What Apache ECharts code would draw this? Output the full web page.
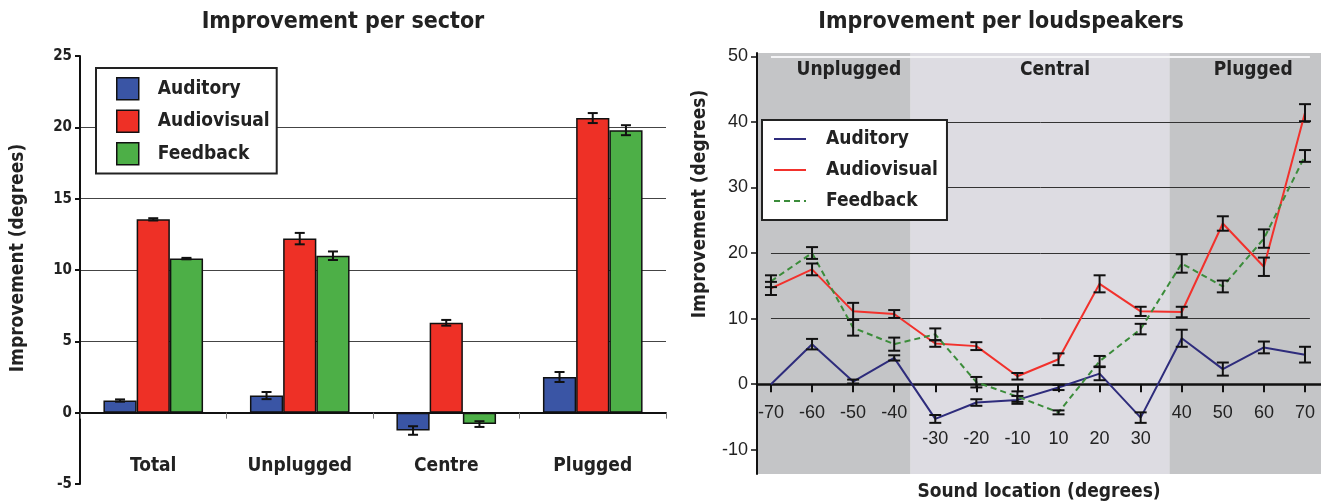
<!DOCTYPE html>
<html>
<head>
<meta charset="utf-8">
<script src="https://cdn.jsdelivr.net/npm/echarts@6/dist/echarts.min.js"></script>
<style>
html,body{margin:0;padding:0;background:#fff;}
#chart{width:1321px;height:503px;}
</style>
</head>
<body>
<div id="chart"></div>
<script>
// ---------- data: left chart (per sector) ----------
const sectors = ['Total', 'Unplugged', 'Centre', 'Plugged'];
const sectorAuditory = [0.85, 1.2, -1.25, 2.5];
const sectorAuditoryErr = [0.08, 0.25, 0.3, 0.35];
const sectorAudiovisual = [13.55, 12.2, 6.3, 20.65];
const sectorAudiovisualErr = [0.08, 0.4, 0.2, 0.35];
const sectorFeedback = [10.8, 11.0, -0.8, 19.8];
const sectorFeedbackErr = [0.05, 0.3, 0.2, 0.35];
const sectorTicks = [-5, 0, 5, 10, 15, 20, 25];

// ---------- data: right chart (per loudspeaker) ----------
const locations = ['-70', '-60', '-50', '-40', '-30', '-20', '-10', '10', '20', '30', '40', '50', '60', '70'];
const locAuditory = [0, 6.1, 0.4, 4.0, -5.3, -2.8, -2.4, -0.5, 1.6, -5.1, 7.0, 2.3, 5.6, 4.5];
const locAuditoryErr = [0, 0.8, 0.3, 0.4, 0.6, 0.5, 0.6, 0.4, 1.0, 0.8, 1.3, 1.0, 0.9, 1.2];
const locAudiovisual = [14.6, 17.5, 11.1, 10.7, 6.2, 5.8, 1.2, 3.8, 15.3, 11.1, 11.0, 24.5, 17.9, 41.4];
const locAudiovisualErr = [1.0, 0.9, 1.3, 0.6, 0.5, 0.6, 0.5, 0.9, 1.3, 0.7, 0.8, 1.1, 1.4, 1.3];
const locFeedback = [15.7, 20.0, 8.6, 6.1, 7.6, 0.3, -1.9, -4.3, 3.5, 8.4, 18.4, 14.9, 22.2, 34.8];
const locFeedbackErr = [0.9, 0.9, 1.2, 1.0, 0.9, 0.8, 0.8, 0.3, 0.8, 0.8, 1.4, 0.9, 1.4, 0.9];
const locTicks = [-10, 0, 10, 20, 30, 40, 50];
const locGridLines = [10, 20, 30, 40];
const zones = ['Unplugged', 'Central', 'Plugged'];
const zoneEdges = [-0.34, 3.4, 9.7, 13.39]; // in loudspeaker-index units
const centralLocations = ['-30', '-20', '-10', '10', '20', '30'];

// ---------- styles ----------
const BOLD = "'DejaVu Sans Condensed', 'DejaVu Sans', sans-serif";
const NARROW = "'Liberation Sans Narrow', 'Liberation Sans', Arial, sans-serif";
const TXT = '#222';
const C_BLUE = '#3a55a5', C_RED = '#ee3026', C_GREEN = '#4daf47';
const L_NAVY = '#2e2c7c', L_RED = '#f2312c', L_GREEN = '#3b8c3a';

const chart = echarts.init(document.getElementById('chart'), null, {renderer: 'canvas'});

const GAP = 0.32;
function barErrRender(k) {
  return function (params, api) {
    const c = api.value(0), lo = api.value(1), hi = api.value(2);
    if (hi - lo <= 0) return null;
    const band = api.size([1, 0])[0];
    const bw = band * (1 - GAP) / 3;
    const off = (k - 1) * bw;
    const a = api.coord([c, lo]), b = api.coord([c, hi]);
    const x = a[0] + off, hw = 5;
    const st = {stroke: '#111', lineWidth: 2};
    return {type: 'group', children: [
      {type: 'line', shape: {x1: x, y1: a[1], x2: x, y2: b[1]}, style: st},
      {type: 'line', shape: {x1: x - hw, y1: a[1], x2: x + hw, y2: a[1]}, style: st},
      {type: 'line', shape: {x1: x - hw, y1: b[1], x2: x + hw, y2: b[1]}, style: st}
    ]};
  };
}
function lineErrRender(params, api) {
  const x = api.value(0), lo = api.value(1), hi = api.value(2);
  if (hi - lo <= 0) return null;
  const a = api.coord([x, lo]), b = api.coord([x, hi]);
  const hw = 6;
  const st = {stroke: '#111', lineWidth: 2};
  return {type: 'group', children: [
    {type: 'line', shape: {x1: a[0], y1: a[1], x2: b[0], y2: b[1]}, style: st},
    {type: 'line', shape: {x1: a[0] - hw, y1: a[1], x2: a[0] + hw, y2: a[1]}, style: st},
    {type: 'line', shape: {x1: b[0] - hw, y1: b[1], x2: b[0] + hw, y2: b[1]}, style: st}
  ]};
}
function errData(vals, errs) {
  return vals.map((v, i) => [i, v - errs[i], v + errs[i]]);
}
function pts(vals) { return vals.map((v, i) => [i, v]); }

const idx = locations.map((_, i) => i);

const barSeries = [
  ['Auditory', sectorAuditory, sectorAuditoryErr, C_BLUE],
  ['Audiovisual', sectorAudiovisual, sectorAudiovisualErr, C_RED],
  ['Feedback', sectorFeedback, sectorFeedbackErr, C_GREEN]
];
const lineSeries = [
  ['Auditory', locAuditory, locAuditoryErr, L_NAVY, 'solid'],
  ['Audiovisual', locAudiovisual, locAudiovisualErr, L_RED, 'solid'],
  ['Feedback', locFeedback, locFeedbackErr, L_GREEN, [6, 4]]
];

const series = [];
barSeries.forEach(function (s, k) {
  series.push({
    type: 'bar', name: s[0], xAxisIndex: 0, yAxisIndex: 0,
    data: s[1], barGap: '0%', barCategoryGap: (GAP * 100) + '%',
    itemStyle: {color: s[3], borderColor: '#111', borderWidth: 1.5},
    z: 2, animation: false
  });
});
barSeries.forEach(function (s, k) {
  series.push({
    type: 'custom', name: 'err-' + s[0], xAxisIndex: 0, yAxisIndex: 0,
    data: errData(s[1], s[2]), renderItem: barErrRender(k),
    encode: {x: 0, y: [1, 2]}, z: 4, animation: false, silent: true
  });
});
lineSeries.forEach(function (s, k) {
  const ser = {
    type: 'line', name: 'loc-' + s[0], xAxisIndex: 1, yAxisIndex: 1,
    data: pts(s[1]), symbol: 'none', showSymbol: false, smooth: false,
    lineStyle: {color: s[3], width: 2, type: s[4]},
    itemStyle: {color: s[3]},
    z: 3, animation: false
  };
  if (k === 0) {
    ser.markArea = {
      silent: true, z: 0,
      data: zones.map(function (name, i) {
        return [{
          name: name, xAxis: zoneEdges[i],
          itemStyle: {color: i === 1 ? '#dddce2' : '#c4c5c7'},
          label: {offset: [i === 2 ? 8 : 15, 0]}
        }, {xAxis: zoneEdges[i + 1]}];
      }),
      label: {show: true, position: 'insideTop', distance: 8, color: TXT,
              fontFamily: BOLD, fontWeight: 'bold', fontSize: 19}
    };
    ser.markLine = {
      silent: true, z: 1, symbol: ['none', 'none'], label: {show: false}, animation: false,
      lineStyle: {color: '#333', width: 1, type: 'solid'},
      emphasis: {disabled: true},
      data: locGridLines.map(v => [{coord: [0, v]}, {coord: [13.12, v]}]).concat([
        [{coord: [0, 50], lineStyle: {color: '#f4f4f6', width: 2}}, {coord: [13.12, 50]}]
      ])
    };
  }
  series.push(ser);
});
lineSeries.forEach(function (s) {
  series.push({
    type: 'custom', name: 'lerr-' + s[0], xAxisIndex: 1, yAxisIndex: 1,
    data: errData(s[1], s[2]), renderItem: lineErrRender,
    encode: {x: 0, y: [1, 2]}, z: 5, animation: false, silent: true
  });
});

const option = {
  animation: false,
  backgroundColor: '#fff',
  graphic: [
    {type: 'text', x: 343, y: 22, style: {text: 'Improvement per sector', align: 'center', verticalAlign: 'middle', fill: TXT, font: "bold 23px " + BOLD}},
    {type: 'text', x: 1001, y: 22, style: {text: 'Improvement per loudspeakers', align: 'center', verticalAlign: 'middle', fill: TXT, font: "bold 23px " + BOLD}},
    {type: 'text', x: 18, y: 258, rotation: Math.PI / 2, style: {text: 'Improvement (degrees)', align: 'center', verticalAlign: 'middle', fill: TXT, font: "bold 19px " + BOLD}},
    {type: 'text', x: 700, y: 204, rotation: Math.PI / 2, style: {text: 'Improvement (degrees)', align: 'center', verticalAlign: 'middle', fill: TXT, font: "bold 19px " + BOLD}},
    {type: 'text', x: 1039, y: 492, style: {text: 'Sound location (degrees)', align: 'center', verticalAlign: 'middle', fill: TXT, font: "bold 19px " + BOLD}}
  ],
  legend: [
    {
      data: ['Auditory', 'Audiovisual', 'Feedback'],
      orient: 'vertical', left: 96, top: 68,
      itemWidth: 22, itemHeight: 22, itemGap: 9,
      icon: 'rect',
      itemStyle: {borderColor: '#111', borderWidth: 1.5},
      padding: [9, 7, 8, 20],
      backgroundColor: '#fff', borderColor: '#222', borderWidth: 2, borderRadius: 0,
      selectedMode: false,
      textStyle: {color: TXT, fontFamily: BOLD, fontWeight: 'bold', fontSize: 19, lineHeight: 22, padding: [0, 0, 0, 14]}
    },
    {
      data: ['loc-Auditory', 'loc-Audiovisual', 'loc-Feedback'],
      formatter: n => n.replace('loc-', ''),
      orient: 'vertical', left: 762, top: 120,
      itemWidth: 32, itemHeight: 12, itemGap: 9,
      itemStyle: {opacity: 0},
      padding: [8, 9, 8, 11],
      backgroundColor: '#fff', borderColor: '#222', borderWidth: 2, borderRadius: 0,
      selectedMode: false,
      textStyle: {color: TXT, fontFamily: BOLD, fontWeight: 'bold', fontSize: 19, lineHeight: 22, padding: [0, 0, 0, 15]}
    }
  ],
  grid: [
    {left: 80, top: 56, width: 586, height: 428, containLabel: false, outerBoundsMode: 'none'},
    {left: 757, top: 53, right: 0, bottom: 29, containLabel: false, outerBoundsMode: 'none'}
  ],
  xAxis: [
    {
      type: 'category', gridIndex: 0, data: sectors,
      axisLine: {onZero: true, lineStyle: {color: '#111', width: 2}},
      axisTick: {show: true, interval: 0, alignWithLabel: false, length: 6, lineStyle: {color: '#777', width: 1}},
      axisLabel: {color: TXT, fontFamily: BOLD, fontWeight: 'bold', fontSize: 19, lineHeight: 24, margin: -30, interval: 0},
      splitLine: {show: false}
    },
    {
      type: 'value', gridIndex: 1, min: zoneEdges[0], max: zoneEdges[zoneEdges.length - 1],
      axisLine: {onZero: true, lineStyle: {color: '#111', width: 2.5}},
      axisTick: {show: true, customValues: idx, length: 8, lineStyle: {color: '#111', width: 2}},
      axisLabel: {
        customValues: idx, color: TXT, fontFamily: NARROW, fontSize: 18, lineHeight: 26, margin: -74,
        formatter: function (v) {
          const lab = locations[Math.round(v)];
          return centralLocations.indexOf(lab) >= 0 ? '\n' + lab : lab;
        }
      },
      splitLine: {show: false}
    }
  ],
  yAxis: [
    {
      type: 'value', gridIndex: 0, min: sectorTicks[0], max: sectorTicks[sectorTicks.length - 1], interval: 5,
      axisLine: {show: true, onZero: false, lineStyle: {color: '#111', width: 2}},
      axisTick: {show: true, length: 5, lineStyle: {color: '#111', width: 2}},
      axisLabel: {color: TXT, fontFamily: BOLD, fontWeight: 'bold', fontSize: 15, margin: 8},
      splitLine: {show: true, showMinLine: false, showMaxLine: false, lineStyle: {color: '#444', width: 1}}
    },
    {
      type: 'value', gridIndex: 1, min: -13.7, max: 50.5,
      axisLine: {show: true, onZero: false, lineStyle: {color: '#111', width: 2}},
      axisTick: {show: true, customValues: locTicks, length: 6, lineStyle: {color: '#111', width: 1.5}},
      axisLabel: {customValues: locTicks, color: TXT, fontFamily: NARROW, fontSize: 18, margin: 9},
      splitLine: {show: false}
    }
  ],
  series: series
};
chart.setOption(option);
</script>
</body>
</html>
